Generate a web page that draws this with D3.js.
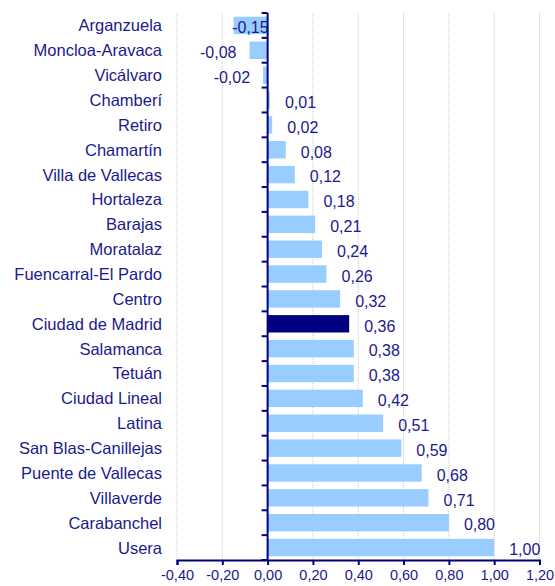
<!DOCTYPE html>
<html>
<head>
<meta charset="utf-8">
<script src="https://cdn.jsdelivr.net/npm/d3@7"></script>
<style>
  body { margin: 0; background: #fff; }
  text { font-family: "Liberation Sans", Arial, sans-serif; fill: #1a1a8c; }
</style>
</head>
<body>
<div id="chart"></div>
<script>
// Districts, top to bottom as in the chart
var districts = ["Arganzuela", "Moncloa-Aravaca", "Vicálvaro", "Chamberí", "Retiro",
  "Chamartín", "Villa de Vallecas", "Hortaleza", "Barajas", "Moratalaz",
  "Fuencarral-El Pardo", "Centro", "Ciudad de Madrid", "Salamanca", "Tetuán",
  "Ciudad Lineal", "Latina", "San Blas-Canillejas", "Puente de Vallecas",
  "Villaverde", "Carabanchel", "Usera"];
var values = [-0.15, -0.08, -0.02, 0.01, 0.02, 0.08, 0.12, 0.18, 0.21, 0.24,
  0.26, 0.32, 0.36, 0.38, 0.38, 0.42, 0.51, 0.59, 0.68, 0.71, 0.80, 1.00];
var xTicks = [-0.4, -0.2, 0, 0.2, 0.4, 0.6, 0.8, 1.0, 1.2];
var highlight = "Ciudad de Madrid";

var width = 555, height = 586;
var plotLeft = 177, plotRight = 539.5, plotTop = 13, plotBottom = 560;

var svg = d3.select("#chart").append("svg").attr("width", width).attr("height", height);

var x = d3.scaleLinear().domain([-0.4, 1.2]).range([plotLeft, plotRight]);
var y = d3.scaleBand().domain(districts).range([plotTop, plotBottom]).paddingInner(0.3).paddingOuter(0.15);

var fmt = function(v) { return d3.format(".2f")(v).replace(".", ",").replace("−", "-"); };

// dotted grid lines
svg.append("g").selectAll("line").data(xTicks.filter(function(d) { return d !== 0; }))
  .enter().append("line")
  .attr("x1", function(d) { return x(d); }).attr("x2", function(d) { return x(d); })
  .attr("y1", plotTop).attr("y2", plotBottom)
  .attr("stroke", "#c8c8c8").attr("stroke-width", 1).attr("stroke-dasharray", "1,1");

// bars
var data = districts.map(function(d, i) { return { name: d, value: values[i] }; });
svg.append("g").selectAll("rect").data(data).enter().append("rect")
  .attr("x", function(d) { return x(Math.min(0, d.value)); })
  .attr("y", function(d) { return y(d.name); })
  .attr("width", function(d) { return Math.abs(x(d.value) - x(0)); })
  .attr("height", y.bandwidth())
  .attr("fill", function(d) { return d.name === highlight ? "#000080" : "#99ccff"; });

// value labels
svg.append("g").selectAll("text").data(data).enter().append("text")
  .attr("x", function(d) {
    if (d.value >= 0) return x(d.value) + 15;
    if (d.value < -0.1) return x(0) + 1;   // pushed against the axis like the original
    return x(d.value) - 13;
  })
  .attr("y", function(d) { return y(d.name) + y.bandwidth() / 2 + 2; })
  .attr("dy", "0.36em")
  .attr("text-anchor", function(d) { return d.value >= 0 ? "start" : "end"; })
  .style("font-size", "16px")
  .text(function(d) { return fmt(d.value); });

// category labels
svg.append("g").selectAll("text").data(districts).enter().append("text")
  .attr("x", 162)
  .attr("y", function(d) { return y(d) + y.bandwidth() / 2; })
  .attr("dy", "0.36em")
  .attr("text-anchor", "end")
  .style("font-size", "16.5px")
  .text(function(d) { return d; });

// vertical axis at zero with ticks at band edges
var edges = d3.range(districts.length + 1).map(function(i) {
  return plotTop + i * (plotBottom - plotTop) / districts.length;
});
svg.append("g").selectAll("line").data(edges).enter().append("line")
  .attr("x1", x(0) - 6).attr("x2", x(0))
  .attr("y1", function(d) { return d; }).attr("y2", function(d) { return d; })
  .attr("stroke", "#000080").attr("stroke-width", 2);
svg.append("line").attr("x1", x(0)).attr("x2", x(0)).attr("y1", plotTop).attr("y2", plotBottom)
  .attr("stroke", "#000080").attr("stroke-width", 2);

// x axis
var xAxis = d3.axisBottom(x).tickValues(xTicks).tickSize(5).tickFormat(fmt);
var gx = svg.append("g").attr("transform", "translate(0," + plotBottom + ")").call(xAxis);
gx.select(".domain").attr("stroke", "#000080").attr("stroke-width", 2);
gx.selectAll(".tick line").attr("stroke", "#000080").attr("stroke-width", 2);
gx.selectAll(".tick text").attr("fill", "#1a1a8c").attr("y", 10).attr("dy", "0.71em")
  .style("font-size", "14.5px").style("font-family", "Liberation Sans, Arial, sans-serif");
</script>
</body>
</html>
